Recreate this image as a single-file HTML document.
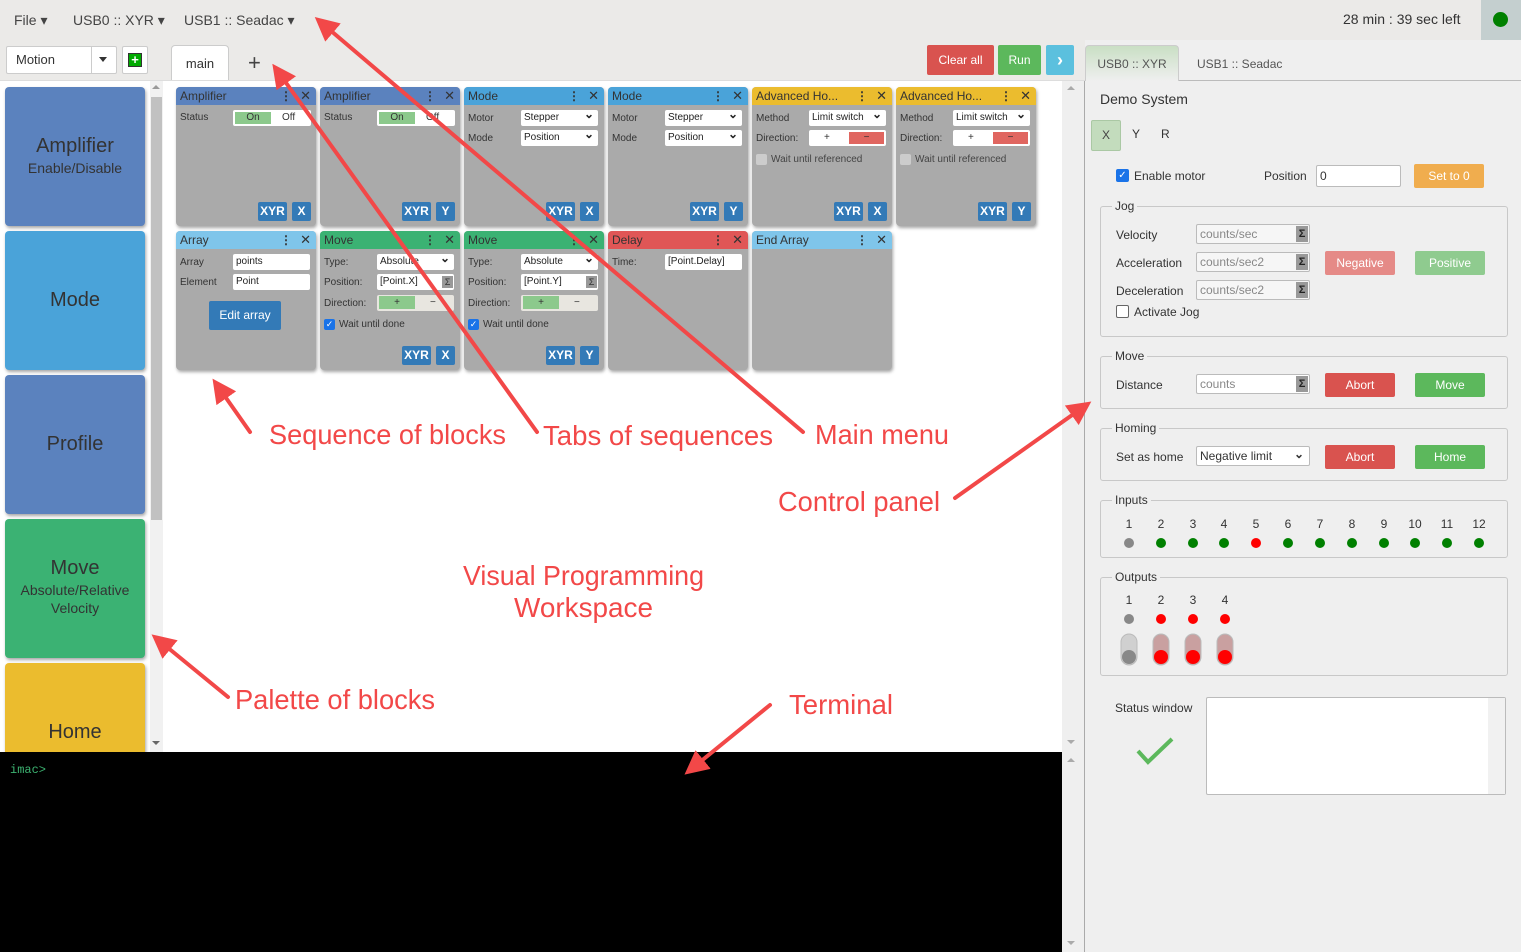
<!DOCTYPE html>
<html><head><meta charset="utf-8"><style>
*{box-sizing:border-box;margin:0;padding:0}
body{width:1521px;height:952px;position:relative;overflow:hidden;background:#fff;font-family:"Liberation Sans",sans-serif;color:#333}
.a{position:absolute}
.blk{position:absolute;width:140px;height:139px;background:#aaa;border-radius:4px;box-shadow:1px 2px 3px rgba(0,0,0,.35);font-size:10px;color:#333;overflow:hidden}
.hd{height:18px;padding-left:4px;font-size:12px;line-height:18px;color:#333;position:relative}
.hd .dots{position:absolute;right:24px;top:0;font-weight:bold}
.hd .x{position:absolute;right:5px;top:0;font-size:13px}
.lb{position:absolute;left:4px;font-size:10px}
.in{position:absolute;background:#fff;height:16px;font-size:10px;line-height:16px;padding-left:3px;border-radius:2px;color:#222}
.sel:after{content:"⌄";position:absolute;right:4px;top:-4px;font-weight:bold;font-size:12px}
.bb{position:absolute;background:#337ab7;color:#fff;font-weight:bold;font-size:12px;height:19px;line-height:19px;text-align:center;border-radius:2px}
.pal{position:absolute;left:5px;width:140px;border-radius:4px;box-shadow:1px 2px 3px rgba(0,0,0,.35);text-align:center;color:#333}
.btn{position:absolute;color:#fff;font-size:12px;text-align:center;border-radius:2px}
.fs{position:absolute;left:1100px;width:408px;border:1px solid #c8c8c8;border-radius:3px}
.lg{position:absolute;left:1112px;font-size:12px;background:#efefef;padding:0 3px;color:#333}
.t12{position:absolute;font-size:12px;color:#333}
.cin{position:absolute;background:#f6f6f6;border:1px solid #bbb;border-radius:2px;height:20px;font-size:12px;line-height:18px;padding-left:3px;color:#888}
.sig{position:absolute;right:1px;top:1px;width:12px;height:16px;background:#999;color:#222;font-size:11px;text-align:center;line-height:16px;font-weight:bold}
.dot{position:absolute;width:10px;height:10px;border-radius:50%}
</style></head><body>
<!-- top bar -->
<div class="a" style="left:0;top:0;width:1521px;height:80px;background:#ebeae8"></div>
<div class="a" style="left:14px;top:12px;font-size:14px;color:#444">File ▾</div>
<div class="a" style="left:73px;top:12px;font-size:14px;color:#444">USB0 :: XYR ▾</div>
<div class="a" style="left:184px;top:12px;font-size:14px;color:#444">USB1 :: Seadac ▾</div>
<div class="a" style="left:1343px;top:11px;font-size:14px;color:#333">28 min : 39 sec left</div>
<div class="a" style="left:1481px;top:0;width:40px;height:40px;background:#c4cfcf"></div>
<div class="dot" style="left:1493px;top:12px;width:15px;height:15px;background:#008000"></div>
<div class="a" style="left:6px;top:46px;width:111px;height:28px;background:#fff;border:1px solid #ccc;border-radius:2px;font-size:13px;line-height:26px;padding-left:9px">Motion</div>
<div class="a" style="left:91px;top:47px;width:1px;height:26px;background:#ccc"></div>
<div class="a" style="left:99px;top:57px;border:4px solid transparent;border-top:5px solid #333"></div>
<div class="a" style="left:122px;top:46px;width:26px;height:28px;background:#fff;border:1px solid #ccc;border-radius:2px"></div>
<div class="a" style="left:128px;top:53px;width:14px;height:14px;background:#0a0;border:1px solid #333;color:#fff;font-size:13px;line-height:11px;text-align:center;font-weight:bold">+</div>
<div class="a" style="left:171px;top:45px;width:58px;height:36px;background:#fff;border:1px solid #ccc;border-bottom:none;border-radius:4px 4px 0 0;font-size:13px;text-align:center;line-height:36px">main</div>
<div class="a" style="left:248px;top:50px;font-size:22px;color:#444">+</div>
<div class="btn" style="left:927px;top:45px;width:67px;height:30px;background:#d9534f;line-height:30px">Clear all</div>
<div class="btn" style="left:998px;top:45px;width:43px;height:30px;background:#5cb85c;line-height:30px">Run</div>
<div class="btn" style="left:1046px;top:45px;width:28px;height:30px;background:#5bc0de;line-height:30px;font-size:18px;font-weight:bold">›</div>
<div class="a" style="left:0;top:80px;width:1085px;height:1px;background:#ddd"></div>
<!-- palette -->
<div class="a" style="left:0;top:81px;width:165px;height:671px;background:#fff"></div>
<div class="a" style="left:150px;top:81px;width:13px;height:671px;background:#f1f1f1"></div>
<div class="a" style="left:151px;top:97px;width:11px;height:423px;background:#c1c1c1"></div>
<div class="a" style="left:152px;top:85px;border:4px solid transparent;border-bottom:4px solid #999;border-top:none"></div>
<div class="a" style="left:152px;top:741px;border:4px solid transparent;border-top:4px solid #666;border-bottom:none"></div>
<div class="pal" style="top:87px;height:139px;background:#5b82be"><div style="margin-top:48px;font-size:20px">Amplifier</div><div style="font-size:14px;margin-top:2px">Enable/Disable</div></div>
<div class="pal" style="top:231px;height:139px;background:#4aa3d9"><div style="margin-top:58px;font-size:20px">Mode</div></div>
<div class="pal" style="top:375px;height:139px;background:#5b82be"><div style="margin-top:58px;font-size:20px">Profile</div></div>
<div class="pal" style="top:519px;height:139px;background:#3bb273"><div style="margin-top:38px;font-size:20px">Move</div><div style="font-size:14px;margin-top:2px">Absolute/Relative</div><div style="font-size:14px;margin-top:2px">Velocity</div></div>
<div class="pal" style="top:663px;height:95px;background:#ebbc2e;border-radius:4px 4px 0 0"><div style="margin-top:58px;font-size:20px">Home</div></div>
<!-- workspace scrollbar -->
<div class="a" style="left:1062px;top:81px;width:22px;height:871px;background:#efefef"></div>
<div class="a" style="left:1084px;top:81px;width:1px;height:871px;background:#aaa"></div>
<div class="a" style="left:1067px;top:86px;border:4px solid transparent;border-bottom:4px solid #aaa;border-top:none"></div>
<div class="a" style="left:1067px;top:740px;border:4px solid transparent;border-top:4px solid #aaa;border-bottom:none"></div>
<div class="a" style="left:1067px;top:758px;border:4px solid transparent;border-bottom:4px solid #aaa;border-top:none"></div>
<div class="a" style="left:1067px;top:941px;border:4px solid transparent;border-top:4px solid #aaa;border-bottom:none"></div>
<!-- terminal -->
<div class="a" style="left:0;top:752px;width:1062px;height:200px;background:#000"></div>
<div class="a" style="left:10px;top:763px;font-family:'Liberation Mono',monospace;font-size:12px;color:#3cb371">imac&gt;</div>

<!-- blocks row 1 -->
<div class="blk" style="left:176px;top:87px"><div class="hd" style="background:#5b82be">Amplifier<span class="dots">⋮</span><span class="x">✕</span></div>
<div class="lb" style="top:25px">Status</div><div class="in" style="left:57px;top:23px;width:78px"></div><div class="a" style="left:59px;top:25px;width:36px;height:12px;background:#8cc98c;text-align:center;line-height:12px">On</div><div class="a" style="left:106px;top:25px;line-height:12px">Off</div>
<div class="bb" style="left:82px;top:115px;width:29px">XYR</div><div class="bb" style="left:116px;top:115px;width:19px">X</div></div>
<div class="blk" style="left:320px;top:87px"><div class="hd" style="background:#5b82be">Amplifier<span class="dots">⋮</span><span class="x">✕</span></div>
<div class="lb" style="top:25px">Status</div><div class="in" style="left:57px;top:23px;width:78px"></div><div class="a" style="left:59px;top:25px;width:36px;height:12px;background:#8cc98c;text-align:center;line-height:12px">On</div><div class="a" style="left:106px;top:25px;line-height:12px">Off</div>
<div class="bb" style="left:82px;top:115px;width:29px">XYR</div><div class="bb" style="left:116px;top:115px;width:19px">Y</div></div>
<div class="blk" style="left:464px;top:87px"><div class="hd" style="background:#4aa3d9">Mode<span class="dots">⋮</span><span class="x">✕</span></div>
<div class="lb" style="top:26px">Motor</div><div class="in sel" style="left:57px;top:23px;width:77px">Stepper</div>
<div class="lb" style="top:46px">Mode</div><div class="in sel" style="left:57px;top:43px;width:77px">Position</div>
<div class="bb" style="left:82px;top:115px;width:29px">XYR</div><div class="bb" style="left:116px;top:115px;width:19px">X</div></div>
<div class="blk" style="left:608px;top:87px"><div class="hd" style="background:#4aa3d9">Mode<span class="dots">⋮</span><span class="x">✕</span></div>
<div class="lb" style="top:26px">Motor</div><div class="in sel" style="left:57px;top:23px;width:77px">Stepper</div>
<div class="lb" style="top:46px">Mode</div><div class="in sel" style="left:57px;top:43px;width:77px">Position</div>
<div class="bb" style="left:82px;top:115px;width:29px">XYR</div><div class="bb" style="left:116px;top:115px;width:19px">Y</div></div>
<div class="blk" style="left:752px;top:87px"><div class="hd" style="background:#ebbc2e">Advanced Ho...<span class="dots">⋮</span><span class="x">✕</span></div>
<div class="lb" style="top:26px">Method</div><div class="in sel" style="left:57px;top:23px;width:77px">Limit switch</div>
<div class="lb" style="top:46px">Direction:</div><div class="in" style="left:57px;top:43px;width:77px"></div><div class="a" style="left:72px;top:44px;line-height:14px">+</div><div class="a" style="left:97px;top:45px;width:35px;height:12px;background:#e06660;text-align:center;line-height:12px">−</div>
<div class="a" style="left:4px;top:67px;width:11px;height:11px;background:#ccc;border-radius:2px"></div><div class="lb" style="left:19px;top:67px;color:#444">Wait until referenced</div>
<div class="bb" style="left:82px;top:115px;width:29px">XYR</div><div class="bb" style="left:116px;top:115px;width:19px">X</div></div>
<div class="blk" style="left:896px;top:87px"><div class="hd" style="background:#ebbc2e">Advanced Ho...<span class="dots">⋮</span><span class="x">✕</span></div>
<div class="lb" style="top:26px">Method</div><div class="in sel" style="left:57px;top:23px;width:77px">Limit switch</div>
<div class="lb" style="top:46px">Direction:</div><div class="in" style="left:57px;top:43px;width:77px"></div><div class="a" style="left:72px;top:44px;line-height:14px">+</div><div class="a" style="left:97px;top:45px;width:35px;height:12px;background:#e06660;text-align:center;line-height:12px">−</div>
<div class="a" style="left:4px;top:67px;width:11px;height:11px;background:#ccc;border-radius:2px"></div><div class="lb" style="left:19px;top:67px;color:#444">Wait until referenced</div>
<div class="bb" style="left:82px;top:115px;width:29px">XYR</div><div class="bb" style="left:116px;top:115px;width:19px">Y</div></div>
<!-- row 2 -->
<div class="blk" style="left:176px;top:231px"><div class="hd" style="background:#7fc5ea">Array<span class="dots">⋮</span><span class="x">✕</span></div>
<div class="lb" style="top:26px">Array</div><div class="in" style="left:57px;top:23px;width:77px">points</div>
<div class="lb" style="top:46px">Element</div><div class="in" style="left:57px;top:43px;width:77px">Point</div>
<div class="bb" style="left:33px;top:70px;width:72px;height:29px;line-height:29px;font-weight:normal">Edit array</div></div>
<div class="blk" style="left:320px;top:231px"><div class="hd" style="background:#3bb273">Move<span class="dots">⋮</span><span class="x">✕</span></div>
<div class="lb" style="top:26px">Type:</div><div class="in sel" style="left:57px;top:23px;width:77px">Absolute</div>
<div class="lb" style="top:46px">Position:</div><div class="in" style="left:57px;top:43px;width:77px">[Point.X]</div><div class="a" style="left:122px;top:45px;width:11px;height:12px;background:#999;font-size:9px;text-align:center;line-height:12px">Σ</div>
<div class="lb" style="top:67px">Direction:</div><div class="in" style="left:57px;top:64px;width:77px;background:#e8e6e0"></div><div class="a" style="left:59px;top:65px;width:36px;height:13px;background:#8cc98c;text-align:center;line-height:13px">+</div><div class="a" style="left:110px;top:65px;line-height:13px">−</div>
<div class="a" style="left:4px;top:88px;width:11px;height:11px;background:#1a73e8;border-radius:2px;color:#fff;font-size:9px;line-height:11px;text-align:center">✓</div><div class="lb" style="left:19px;top:88px">Wait until done</div>
<div class="bb" style="left:82px;top:115px;width:29px">XYR</div><div class="bb" style="left:116px;top:115px;width:19px">X</div></div>
<div class="blk" style="left:464px;top:231px"><div class="hd" style="background:#3bb273">Move<span class="dots">⋮</span><span class="x">✕</span></div>
<div class="lb" style="top:26px">Type:</div><div class="in sel" style="left:57px;top:23px;width:77px">Absolute</div>
<div class="lb" style="top:46px">Position:</div><div class="in" style="left:57px;top:43px;width:77px">[Point.Y]</div><div class="a" style="left:122px;top:45px;width:11px;height:12px;background:#999;font-size:9px;text-align:center;line-height:12px">Σ</div>
<div class="lb" style="top:67px">Direction:</div><div class="in" style="left:57px;top:64px;width:77px;background:#e8e6e0"></div><div class="a" style="left:59px;top:65px;width:36px;height:13px;background:#8cc98c;text-align:center;line-height:13px">+</div><div class="a" style="left:110px;top:65px;line-height:13px">−</div>
<div class="a" style="left:4px;top:88px;width:11px;height:11px;background:#1a73e8;border-radius:2px;color:#fff;font-size:9px;line-height:11px;text-align:center">✓</div><div class="lb" style="left:19px;top:88px">Wait until done</div>
<div class="bb" style="left:82px;top:115px;width:29px">XYR</div><div class="bb" style="left:116px;top:115px;width:19px">Y</div></div>
<div class="blk" style="left:608px;top:231px"><div class="hd" style="background:#e05656">Delay<span class="dots">⋮</span><span class="x">✕</span></div>
<div class="lb" style="top:26px">Time:</div><div class="in" style="left:57px;top:23px;width:77px">[Point.Delay]</div></div>
<div class="blk" style="left:752px;top:231px"><div class="hd" style="background:#7fc5ea">End Array<span class="dots">⋮</span><span class="x">✕</span></div></div>

<!-- control panel -->
<div class="a" style="left:1085px;top:40px;width:436px;height:912px;background:#efefef"></div>
<div class="a" style="left:1085px;top:80px;width:436px;height:1px;background:#bbb"></div>
<div class="a" style="left:1085px;top:45px;width:94px;height:36px;background:linear-gradient(#c9dfc4,#efefef);border:1px solid #ccc;border-bottom:none;border-radius:4px 4px 0 0;font-size:12px;color:#555;text-align:center;line-height:36px">USB0 :: XYR</div>
<div class="t12" style="left:1197px;top:57px;color:#555">USB1 :: Seadac</div>
<div class="a" style="left:1100px;top:91px;font-size:14px;color:#333">Demo System</div>
<div class="a" style="left:1091px;top:120px;width:30px;height:31px;background:#c3dcbd;border:1px solid #aac8a4;border-radius:2px;font-size:12px;text-align:center;line-height:29px;color:#444">X</div>
<div class="t12" style="left:1132px;top:127px">Y</div><div class="t12" style="left:1161px;top:127px">R</div>
<div class="a" style="left:1116px;top:169px;width:13px;height:13px;background:#1a73e8;border-radius:2px;color:#fff;font-size:10px;text-align:center;line-height:13px">✓</div>
<div class="t12" style="left:1134px;top:169px">Enable motor</div>
<div class="t12" style="left:1264px;top:169px">Position</div>
<div class="a" style="left:1316px;top:165px;width:85px;height:22px;background:#fff;border:1px solid #bbb;border-radius:2px;font-size:12px;padding-left:3px;line-height:20px">0</div>
<div class="btn" style="left:1414px;top:164px;width:70px;height:24px;background:#f0ad4e;line-height:24px">Set to 0</div>

<div class="fs" style="top:206px;height:131px"></div><div class="lg" style="top:199px">Jog</div>
<div class="t12" style="left:1116px;top:228px">Velocity</div><div class="cin" style="left:1196px;top:224px;width:114px">counts/sec<span class="sig">Σ</span></div>
<div class="t12" style="left:1116px;top:256px">Acceleration</div><div class="cin" style="left:1196px;top:252px;width:114px">counts/sec2<span class="sig">Σ</span></div>
<div class="t12" style="left:1116px;top:284px">Deceleration</div><div class="cin" style="left:1196px;top:280px;width:114px">counts/sec2<span class="sig">Σ</span></div>
<div class="btn" style="left:1325px;top:251px;width:70px;height:24px;background:#e58a87;line-height:24px">Negative</div>
<div class="btn" style="left:1415px;top:251px;width:70px;height:24px;background:#8fcb8f;line-height:24px">Positive</div>
<div class="a" style="left:1116px;top:305px;width:13px;height:13px;background:#fff;border:1px solid #666;border-radius:2px"></div>
<div class="t12" style="left:1134px;top:305px">Activate Jog</div>

<div class="fs" style="top:356px;height:53px"></div><div class="lg" style="top:349px">Move</div>
<div class="t12" style="left:1116px;top:378px">Distance</div><div class="cin" style="left:1196px;top:374px;width:114px;background:#fff">counts<span class="sig">Σ</span></div>
<div class="btn" style="left:1325px;top:373px;width:70px;height:24px;background:#d9534f;line-height:24px">Abort</div>
<div class="btn" style="left:1415px;top:373px;width:70px;height:24px;background:#5cb85c;line-height:24px">Move</div>

<div class="fs" style="top:428px;height:53px"></div><div class="lg" style="top:421px">Homing</div>
<div class="t12" style="left:1116px;top:450px">Set as home</div><div class="cin" style="left:1196px;top:446px;width:114px;background:#fff;color:#333">Negative limit<span style="position:absolute;right:5px;top:-2px;font-weight:bold">⌄</span></div>
<div class="btn" style="left:1325px;top:445px;width:70px;height:24px;background:#d9534f;line-height:24px">Abort</div>
<div class="btn" style="left:1415px;top:445px;width:70px;height:24px;background:#5cb85c;line-height:24px">Home</div>

<div class="fs" style="top:500px;height:58px"></div><div class="lg" style="top:493px">Inputs</div>
<div class="fs" style="top:577px;height:99px"></div><div class="lg" style="top:570px">Outputs</div>
<svg class="a" style="left:0;top:0" width="1521" height="952">
<g font-family="Liberation Sans" font-size="12" fill="#333" text-anchor="middle">
<text x="1129" y="528">1</text><text x="1161" y="528">2</text><text x="1193" y="528">3</text><text x="1224" y="528">4</text><text x="1256" y="528">5</text><text x="1288" y="528">6</text><text x="1320" y="528">7</text><text x="1352" y="528">8</text><text x="1384" y="528">9</text><text x="1415" y="528">10</text><text x="1447" y="528">11</text><text x="1479" y="528">12</text>
<text x="1129" y="604">1</text><text x="1161" y="604">2</text><text x="1193" y="604">3</text><text x="1225" y="604">4</text>
</g>
<g><circle cx="1129" cy="543" r="5" fill="#888"/><circle cx="1161" cy="543" r="5" fill="#008000"/><circle cx="1193" cy="543" r="5" fill="#008000"/><circle cx="1224" cy="543" r="5" fill="#008000"/><circle cx="1256" cy="543" r="5" fill="#f00"/><circle cx="1288" cy="543" r="5" fill="#008000"/><circle cx="1320" cy="543" r="5" fill="#008000"/><circle cx="1352" cy="543" r="5" fill="#008000"/><circle cx="1384" cy="543" r="5" fill="#008000"/><circle cx="1415" cy="543" r="5" fill="#008000"/><circle cx="1447" cy="543" r="5" fill="#008000"/><circle cx="1479" cy="543" r="5" fill="#008000"/>
<circle cx="1129" cy="619" r="5" fill="#888"/><circle cx="1161" cy="619" r="5" fill="#f00"/><circle cx="1193" cy="619" r="5" fill="#f00"/><circle cx="1225" cy="619" r="5" fill="#f00"/>
<rect x="1121" y="634" width="16" height="31" rx="8" fill="#d0d0d0" stroke="#bbb"/><circle cx="1129" cy="657" r="7" fill="#888"/>
<rect x="1153" y="634" width="16" height="31" rx="8" fill="#c9a0a0" stroke="#bbb"/><circle cx="1161" cy="657" r="7" fill="#f00"/>
<rect x="1185" y="634" width="16" height="31" rx="8" fill="#c9a0a0" stroke="#bbb"/><circle cx="1193" cy="657" r="7" fill="#f00"/>
<rect x="1217" y="634" width="16" height="31" rx="8" fill="#c9a0a0" stroke="#bbb"/><circle cx="1225" cy="657" r="7" fill="#f00"/>
<polyline points="1138,751 1148,762 1172,739" fill="none" stroke="#5cb85c" stroke-width="4"/>
</g>
</svg>
<div class="t12" style="left:1115px;top:701px">Status window</div>
<div class="a" style="left:1206px;top:697px;width:300px;height:98px;background:#fff;border:1px solid #bbb;border-radius:2px"></div>
<div class="a" style="left:1488px;top:698px;width:17px;height:96px;background:#f1f1f1"></div>

<!-- annotations -->
<svg class="a" style="left:0;top:0" width="1521" height="952">
<defs><marker id="ah" markerWidth="6" markerHeight="6" refX="1" refY="3" orient="auto" markerUnits="strokeWidth"><path d="M0,0 L6,3 L0,6 Z" fill="#f24848"/></marker></defs>
<g stroke="#f24848" stroke-width="4" stroke-linecap="round" fill="none">
<line x1="803" y1="432" x2="330" y2="30" marker-end="url(#ah)"/>
<line x1="537" y1="432" x2="284" y2="80" marker-end="url(#ah)"/>
<line x1="250" y1="432" x2="224" y2="395" marker-end="url(#ah)"/>
<line x1="228" y1="697" x2="167" y2="647" marker-end="url(#ah)"/>
<line x1="770" y1="705" x2="700" y2="762" marker-end="url(#ah)"/>
<line x1="955" y1="498" x2="1075" y2="413" marker-end="url(#ah)"/>
</g>
<g font-family="Liberation Sans" font-size="28" fill="#f24848">
<text x="269" y="444" textLength="237" lengthAdjust="spacingAndGlyphs">Sequence of blocks</text>
<text x="543" y="445" textLength="230" lengthAdjust="spacingAndGlyphs">Tabs of sequences</text>
<text x="815" y="444" textLength="134" lengthAdjust="spacingAndGlyphs">Main menu</text>
<text x="778" y="511" textLength="162" lengthAdjust="spacingAndGlyphs">Control panel</text>
<text x="463" y="585" textLength="241" lengthAdjust="spacingAndGlyphs">Visual Programming</text>
<text x="514" y="617" textLength="139" lengthAdjust="spacingAndGlyphs">Workspace</text>
<text x="235" y="709" textLength="200" lengthAdjust="spacingAndGlyphs">Palette of blocks</text>
<text x="789" y="714" textLength="104" lengthAdjust="spacingAndGlyphs">Terminal</text>
</g>
</svg>
</body></html>
